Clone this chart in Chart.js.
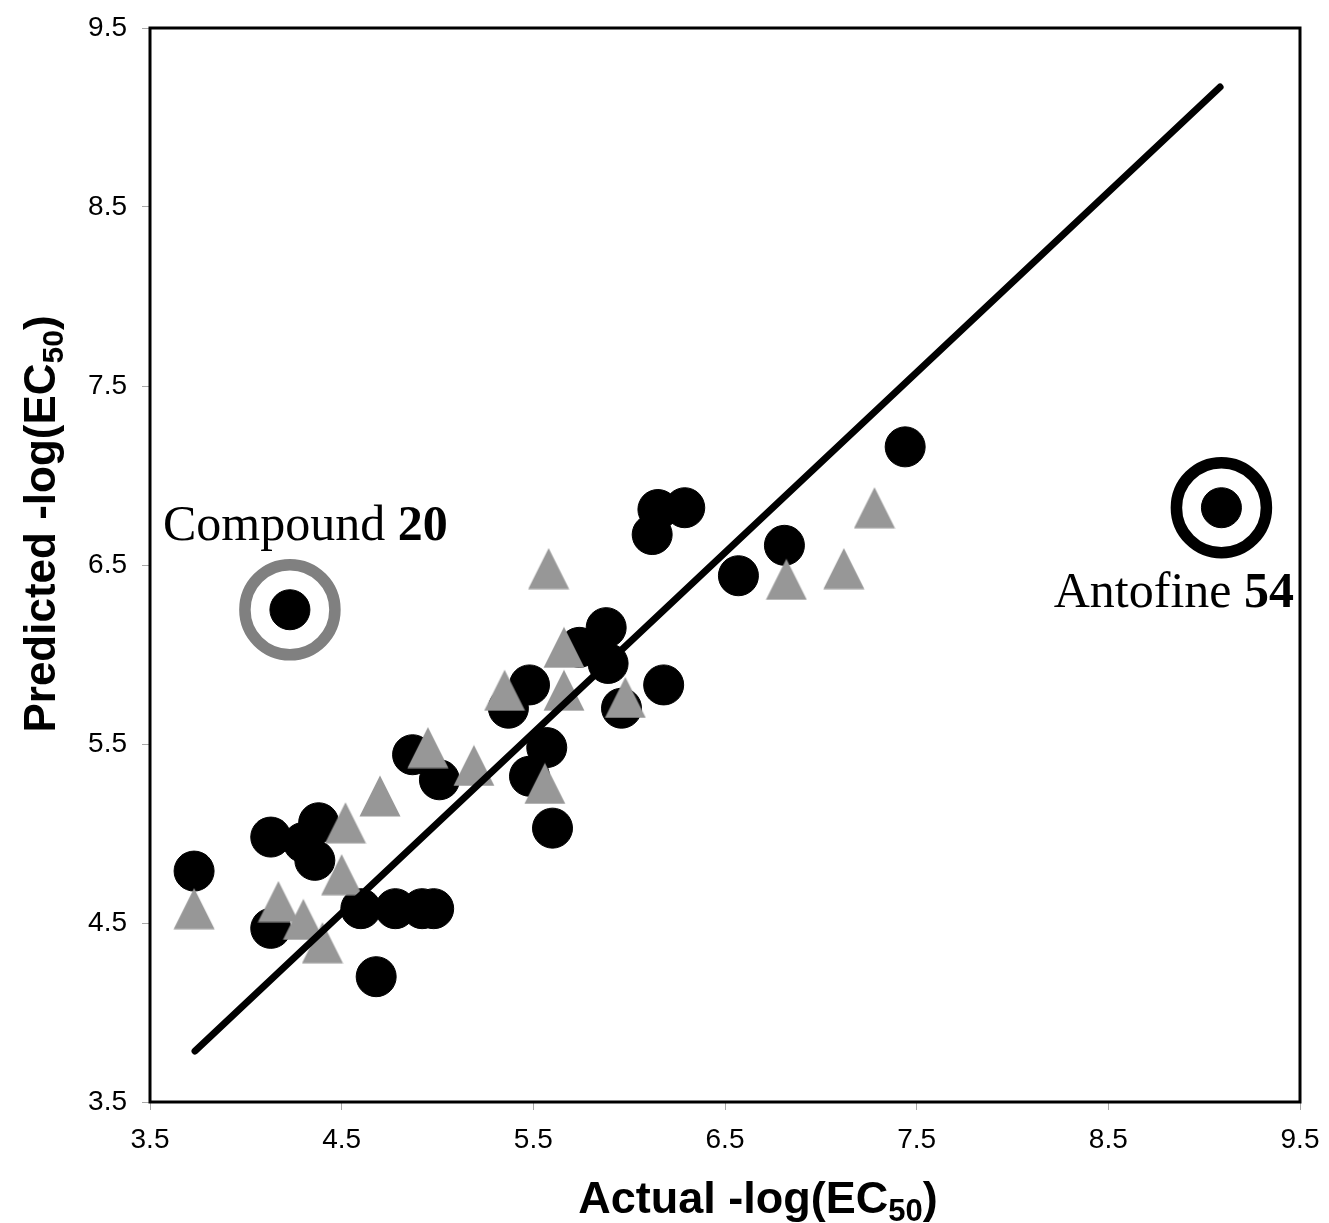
<!DOCTYPE html>
<html>
<head>
<meta charset="utf-8">
<script src="https://cdn.jsdelivr.net/npm/chart.js@4/dist/chart.umd.min.js"></script>
<style>
  html, body { margin:0; padding:0; background:#fff; }
  #wrap { width:1329px; height:1223px; }
</style>
</head>
<body>
<div id="wrap"><canvas id="scatter" width="1329" height="1223"></canvas></div>
<script>
// training set (black circles)
const circleX = [3.73,4.13,4.30,4.38,4.36,4.13,4.60,4.78,4.92,4.98,4.68,4.87,5.01,5.37,5.48,5.57,5.48,5.60,5.74,5.88,5.89,5.96,6.18,6.12,6.15,6.29,6.57,6.81,7.44,9.09,4.23];
const circleY = [4.79,4.98,4.95,5.06,4.85,4.47,4.58,4.58,4.58,4.58,4.20,5.44,5.30,5.70,5.83,5.48,5.32,5.03,6.04,6.15,5.95,5.70,5.83,6.67,6.81,6.82,6.44,6.61,7.16,6.82,6.25];
// test set (grey triangles)
const triX = [3.73,4.17,4.30,4.40,4.50,4.52,4.70,4.95,5.19,5.35,5.56,5.58,5.66,5.66,5.98,6.82,7.12,7.28];
const triY = [4.58,4.62,4.52,4.39,4.77,5.06,5.21,5.48,5.38,5.80,5.28,6.48,6.04,5.80,5.76,6.42,6.48,6.82];
// regression line ends
const fitX = [3.735, 9.083];
const fitY = [3.785, 9.170];
// outliers that are ringed
const ringX = [4.23, 9.09];
const ringY = [6.25, 6.82];
const ringColors = ['#808080', '#000000'];
const ringNames = [['Compound ', '20'], ['Antofine ', '54']];
// axis ticks
const tickValues = [3.5, 4.5, 5.5, 6.5, 7.5, 8.5, 9.5];

function pts(xs, ys){ return xs.map((x,i)=>({x:x, y:ys[i]})); }

// grey triangle marker
function triangleImage(){
  const c = document.createElement('canvas');
  c.width = 42; c.height = 42;
  const g = c.getContext('2d');
  g.fillStyle = '#979797';
  g.beginPath();
  g.moveTo(21, 0.5);
  g.lineTo(41.5, 41.5);
  g.lineTo(0.5, 41.5);
  g.closePath();
  g.fill();
  return c;
}

const frame = {
  id:'frame',
  beforeDatasetsDraw(chart){
    const a = chart.chartArea, ctx = chart.ctx;
    ctx.save();
    ctx.strokeStyle = '#000';
    ctx.lineWidth = 3;
    ctx.strokeRect(a.left, a.top, a.right - a.left, a.bottom - a.top);
    ctx.restore();
  }
};

function subTitle(ctx, main, sub, tail, size){
  const big = 'bold ' + size + 'px "Liberation Sans", Arial, sans-serif';
  const small = 'bold ' + Math.round(size*0.68) + 'px "Liberation Sans", Arial, sans-serif';
  ctx.font = big; const w1 = ctx.measureText(main).width, w3 = ctx.measureText(tail).width;
  ctx.font = small; const w2 = ctx.measureText(sub).width;
  return {w: w1+w2+w3, draw(x, y){
    ctx.textAlign = 'left'; ctx.textBaseline = 'alphabetic';
    ctx.font = big; ctx.fillText(main, x, y);
    ctx.font = small; ctx.fillText(sub, x + w1, y + 8);
    ctx.font = big; ctx.fillText(tail, x + w1 + w2, y);
  }};
}

const titles = {
  id:'titles',
  afterDraw(chart){
    const ctx = chart.ctx;
    ctx.save();
    ctx.fillStyle = '#000';
    let t = subTitle(ctx, 'Actual -log(EC', '50', ')', 45);
    t.draw(758 - t.w/2, 1213);
    ctx.translate(55, 524);
    ctx.rotate(-Math.PI/2);
    t = subTitle(ctx, 'Predicted -log(EC', '50', ')', 44);
    t.draw(-t.w/2, 0);
    ctx.restore();

    // compound labels
    ctx.save();
    ctx.fillStyle = '#000';
    ctx.textBaseline = 'alphabetic';
    ctx.textAlign = 'left';
    const reg = '50px "Liberation Serif", "Times New Roman", serif';
    const bold = 'bold 50px "Liberation Serif", "Times New Roman", serif';
    // Compound 20: above-left of ring
    ctx.font = reg; let wa = ctx.measureText(ringNames[0][0]).width;
    ctx.fillText(ringNames[0][0], 163, 540);
    ctx.font = bold; ctx.fillText(ringNames[0][1], 163 + wa, 540);
    // Antofine 54: below ring, right aligned
    ctx.font = reg; wa = ctx.measureText(ringNames[1][0]).width;
    ctx.font = bold; const wb = ctx.measureText(ringNames[1][1]).width;
    const sx = 1294 - wa - wb;
    ctx.font = reg; ctx.fillText(ringNames[1][0], sx, 607);
    ctx.font = bold; ctx.fillText(ringNames[1][1], sx + wa, 607);
    ctx.restore();
  }
};

function axis(width, height){
  return {
    type:'linear', min:3.5, max:9.5,
    afterBuildTicks(s){ s.ticks = tickValues.map(v=>({value:v})); },
    afterFit(s){
      if(width) s.width = width;
      if(height) s.height = height;
      s.paddingTop = 0; s.paddingBottom = 0; s.paddingLeft = 0; s.paddingRight = 0;
    },
    border:{ display:false },
    grid:{ drawOnChartArea:false, drawTicks:true, tickLength:8, color:'#a8a8a8', lineWidth:1 },
    ticks:{ color:'#000', font:{ family:'"Liberation Sans", Arial, sans-serif', size:28 },
            padding: width ? 15 : 13, maxRotation:0, autoSkip:false,
            callback:v=>v.toFixed(1) },
    title:{ display:false }
  };
}

new Chart(document.getElementById('scatter'), {
  type:'scatter',
  data:{ datasets:[
    { label:'fit', data:pts(fitX, fitY), showLine:true, borderColor:'#000', borderWidth:7,
      borderCapStyle:'round', pointRadius:0 },
    { label:'test', data:pts(triX, triY), pointStyle:triangleImage(), pointRadius:21 },
    { label:'rings', data:pts(ringX, ringY), pointStyle:'circle', pointRadius:45,
      borderWidth:11.5, borderColor:ringColors, backgroundColor:'rgba(0,0,0,0)' },
    { label:'train', data:pts(circleX, circleY), pointStyle:'circle', pointRadius:20,
      borderWidth:1, borderColor:'#000', backgroundColor:'#000' }
  ]},
  options:{
    responsive:false, animation:false,
    layout:{ autoPadding:false, padding:{ left:0, top:28, right:29, bottom:0 } },
    plugins:{ legend:{ display:false }, tooltip:{ enabled:false } },
    scales:{ x:axis(0, 121), y:axis(150, 0) }
  },
  plugins:[frame, titles]
});
</script>
</body>
</html>
